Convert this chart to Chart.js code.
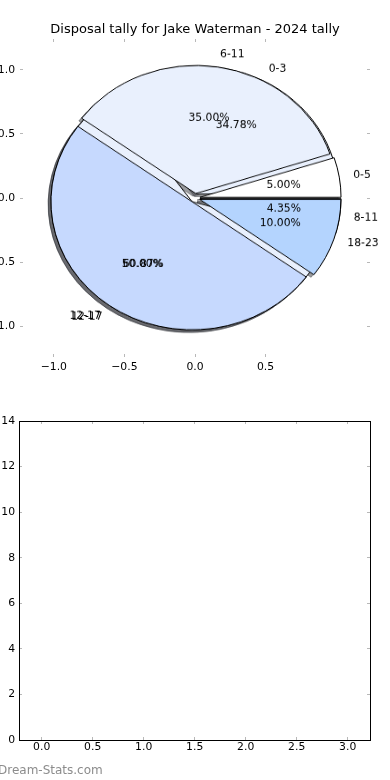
<!DOCTYPE html>
<html><head><meta charset="utf-8">
<script src="https://cdn.jsdelivr.net/npm/chart.js@4.4.0/dist/chart.umd.min.js"></script>
<style>
html,body{margin:0;padding:0;background:#fff;}
#wrap{position:relative;width:390px;height:780px;overflow:hidden;background:#fff;}
#wrap canvas{position:absolute;left:0;}
#axes{top:0;}
#pieB,#pieA{top:0;transform-origin:195px 198px;transform:scaleY(0.9078);}
#lower{top:400px;}
#wm{position:absolute;left:-2px;top:764px;font:12px 'DejaVu Sans';line-height:12px;color:#8c8c8c;white-space:nowrap;}
</style></head><body>
<div id="wrap">
<canvas id="axes" width="390" height="400"></canvas>
<canvas id="pieB" width="390" height="396"></canvas>
<canvas id="pieA" width="390" height="396"></canvas>
<canvas id="lower" width="390" height="380"></canvas>
<div id="wm">Dream-Stats.com</div>
</div>
<script>
// ---------- data ----------
const titleText = 'Disposal tally for Jake Waterman - 2024 tally';
const pieALabels = ['0-5', '6-11', '12-17', '18-23'];
const pieAValues = [1, 7, 10, 2];
const pieAColors = ['#ffffff', '#e9f0fd', '#c6d9fe', '#b4d4fe'];
const pieBLabels = ['0-3', '12-17', '8-11'];
const pieBValues = [8, 14, 1];
const pieBColors = ['#e9f0fd', '#e9f0fd', '#c6d9fe'];
const pieXTicks = [-1, -0.5, 0, 0.5];
const pieYTicks = [-1, -0.5, 0, 0.5, 1];
const lowerXTicks = [0, 0.5, 1, 1.5, 2, 2.5, 3];
const lowerYTicks = [0, 2, 4, 6, 8, 10, 12, 14];

// ---------- styling ----------
const FONT = 'DejaVu Sans';
const tickFont = {family: FONT, size: 10.8};
const SY = 0.9078;
const EXPLODE = 5;
const SHADOW = {dx: -2.8, dy: 2.6 / SY, color: 'rgba(55,58,64,0.5)'};
const fmt1 = v => (v < 0 ? '\u2212' : '') + Math.abs(v).toFixed(1);
const setTicks = arr => s => { s.ticks = arr.map(v => ({value: v})); };
const fixW = w => s => { s.width = w; };
const fixH = h => s => { s.height = h; };
const tickGrid = {drawOnChartArea: false, drawTicks: true, tickLength: -3, color: '#b8b8b8', lineWidth: 1};

// ---------- top axes (pie frame) ----------
new Chart(document.getElementById('axes'), {
  type: 'scatter',
  data: {datasets: []},
  options: {
    responsive: false, animation: false, events: [],
    layout: {padding: 0, autoPadding: false},
    plugins: {
      legend: {display: false}, tooltip: {enabled: false},
      title: {display: true, text: titleText, color: '#000',
        font: {family: FONT, size: 13, weight: 'normal'}, padding: {top: 22.2, bottom: 1.2}}
    },
    scales: {
      x: {type: 'linear', position: 'bottom', min: -1.24, max: 1.24,
        afterBuildTicks: setTicks(pieXTicks), afterFit: fixH(43),
        border: {display: false}, grid: tickGrid,
        ticks: {font: tickFont, color: '#000', padding: 6.5, callback: fmt1, maxRotation: 0, autoSkip: false}},
      x2: {type: 'linear', position: 'top', min: -1.24, max: 1.24,
        afterBuildTicks: setTicks(pieXTicks), afterFit: fixH(0),
        border: {display: false}, grid: tickGrid, ticks: {display: false}},
      y: {type: 'linear', position: 'left', min: -1.24, max: 1.24,
        afterBuildTicks: setTicks(pieYTicks), afterFit: fixW(20),
        border: {display: false}, grid: tickGrid,
        ticks: {font: tickFont, color: '#000', padding: 8, callback: fmt1, autoSkip: false}},
      y2: {type: 'linear', position: 'right', min: -1.24, max: 1.24,
        afterBuildTicks: setTicks(pieYTicks), afterFit: fixW(20),
        border: {display: false}, grid: tickGrid, ticks: {display: false}}
    }
  }
});

// ---------- pies ----------
let pieA = null, pieB = null;
function shifted(ctx, a) {
  const m = (a.startAngle + a.endAngle) / 2;
  ctx.save();
  ctx.translate(Math.cos(m) * EXPLODE, Math.sin(m) * EXPLODE);
  a.draw(ctx);
  ctx.restore();
}
function drawShadows(ctx, arcs) {
  ctx.save();
  ctx.shadowColor = SHADOW.color; ctx.shadowBlur = 0;
  ctx.shadowOffsetX = 4000 + SHADOW.dx; ctx.shadowOffsetY = SHADOW.dy;
  ctx.translate(-4000, 0);
  arcs.forEach(a => shifted(ctx, a));
  ctx.restore();
}
function txt(ctx, s, x, y, align) {
  ctx.save();
  ctx.translate(x, y); ctx.scale(1, 1 / SY);
  ctx.font = tickFont.size + 'px "' + FONT + '"';
  ctx.fillStyle = '#000'; ctx.textAlign = align; ctx.textBaseline = 'middle';
  ctx.fillText(s, 0, 0);
  ctx.restore();
}
function drawPieLabels(ctx, chart) {
  const arcs = chart.getDatasetMeta(0).data;
  const labels = chart.data.labels, vals = chart.data.datasets[0].data;
  const total = vals.reduce((s, v) => s + v, 0);
  arcs.forEach((a, i) => {
    const m = (a.startAngle + a.endAngle) / 2, c = Math.cos(m), s = Math.sin(m), r = a.outerRadius;
    const rl = EXPLODE + 1.1 * r, rp = EXPLODE + 0.6 * r;
    txt(ctx, labels[i], a.x + rl * c, a.y + rl * s, c > 0 ? 'left' : 'right');
    txt(ctx, (vals[i] / total * 100).toFixed(2) + '%', a.x + rp * c, a.y + rp * s, 'center');
  });
}
function pieConfig(labels, values, colors, plugin) {
  return {
    type: 'pie',
    data: {
      labels: [...labels].reverse(),
      datasets: [{data: [...values].reverse(), backgroundColor: [...colors].reverse(),
        borderColor: '#000', borderWidth: 1, offset: 0, hoverOffset: 0, radius: 141.1}]
    },
    options: {responsive: false, animation: false, events: [], rotation: 90,
      layout: {padding: 0}, plugins: {legend: {display: false}, tooltip: {enabled: false}}},
    plugins: [plugin]
  };
}
pieA = new Chart(document.getElementById('pieA'), pieConfig(pieALabels, pieAValues, pieAColors, {
  id: 'pieAdraw',
  beforeDatasetsDraw(chart) {
    chart.getDatasetMeta(0).data.forEach(a => shifted(chart.ctx, a));
    return false;
  },
  afterDraw(chart) {
    drawPieLabels(chart.ctx, chart);
    if (pieB) drawPieLabels(chart.ctx, pieB);
  }
}));
pieB = new Chart(document.getElementById('pieB'), pieConfig(pieBLabels, pieBValues, pieBColors, {
  id: 'pieBdraw',
  beforeDatasetsDraw(chart) {
    drawShadows(chart.ctx, chart.getDatasetMeta(0).data);
    if (pieA) drawShadows(chart.ctx, pieA.getDatasetMeta(0).data);
    chart.getDatasetMeta(0).data.forEach(a => shifted(chart.ctx, a));
    return false;
  }
}));
pieA.draw();

// ---------- lower empty axes ----------
const lowerGrid = {drawOnChartArea: false, drawTicks: true, tickLength: -3, color: '#b8b8b8', lineWidth: 1};
const frame = {display: true, color: '#000', width: 1};
new Chart(document.getElementById('lower'), {
  type: 'scatter',
  data: {datasets: []},
  options: {
    responsive: false, animation: false, events: [],
    layout: {padding: 0, autoPadding: false},
    plugins: {legend: {display: false}, tooltip: {enabled: false}},
    scales: {
      x: {type: 'linear', position: 'bottom', min: -0.2225, max: 3.219,
        afterBuildTicks: setTicks(lowerXTicks), afterFit: fixH(40), border: frame, grid: lowerGrid,
        ticks: {font: tickFont, color: '#000', padding: 4, callback: v => v.toFixed(1), maxRotation: 0, autoSkip: false}},
      x2: {type: 'linear', position: 'top', min: -0.2225, max: 3.219,
        afterBuildTicks: setTicks(lowerXTicks), afterFit: fixH(21), border: frame, grid: lowerGrid, ticks: {display: false}},
      y: {type: 'linear', position: 'left', min: 0, max: 14,
        afterBuildTicks: setTicks(lowerYTicks), afterFit: fixW(19), border: frame, grid: lowerGrid,
        ticks: {font: tickFont, color: '#000', padding: 7, callback: v => String(v), autoSkip: false}},
      y2: {type: 'linear', position: 'right', min: 0, max: 14,
        afterBuildTicks: setTicks(lowerYTicks), afterFit: fixW(20), border: frame, grid: lowerGrid, ticks: {display: false}}
    }
  }
});
</script>
</body></html>
